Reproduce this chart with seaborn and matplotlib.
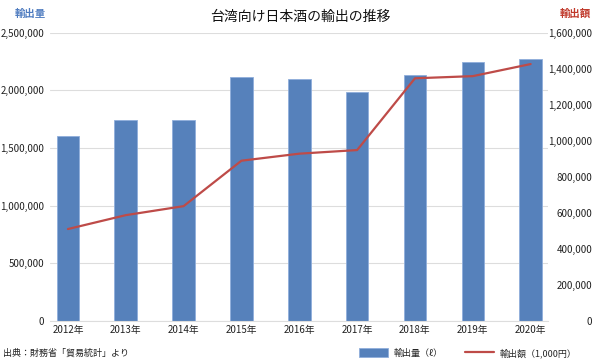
import matplotlib
matplotlib.use("Agg")
import matplotlib.pyplot as plt
import numpy as np
import pandas as pd
import seaborn as sns
from matplotlib.patches import Patch
from matplotlib.lines import Line2D
from matplotlib.ticker import FuncFormatter

# --- data ---
years = ['2012年', '2013年', '2014年', '2015年', '2016年',
         '2017年', '2018年', '2019年', '2020年']
volume = [1599000, 1744000, 1738000, 2111000, 2094000,
          1981000, 2132000, 2241000, 2267000]          # 輸出量（ℓ）
value = [510000, 587000, 637000, 889000, 928000,
         948000, 1346000, 1358000, 1425000]            # 輸出額（1,000円）

left_ticks = [0, 500000, 1000000, 1500000, 2000000, 2500000]
right_ticks = [0, 200000, 400000, 600000, 800000, 1000000, 1200000, 1400000, 1600000]

bar_color = '#5681BB'
line_color = '#BE4B48'
grid_color = '#DDDDDD'

sns.set_theme(style='white')
plt.rcParams['font.family'] = ['Noto Sans CJK JP', 'DejaVu Sans']

df = pd.DataFrame({'year': years, 'volume': volume, 'value': value})
df['pos'] = np.arange(len(df))

fig = plt.figure(figsize=(6, 3.63), dpi=100)
ax = fig.add_axes([50/600, 42/363, 498/600, 288.5/363])

sns.barplot(data=df, x='year', y='volume', ax=ax, color=bar_color,
            width=0.39, saturation=1, edgecolor='#8FAEDB', linewidth=0.6,
            zorder=2)
ax.set_xlim(-0.31, 8.3)
ax.set_ylim(0, 2500000)
ax.set_yticks(left_ticks)
ax.yaxis.set_major_formatter(FuncFormatter(lambda v, p: f'{int(v):,}'))
ax.grid(axis='y', color=grid_color, linewidth=0.8, zorder=0)
ax.set_axisbelow(True)
ax.set_xlabel('')
ax.set_ylabel('')
ax.tick_params(axis='both', length=0, labelsize=7, colors='#222222')
ax.tick_params(axis='y', pad=4)
ax.tick_params(axis='x', pad=3)
for s in ['top', 'left', 'right']:
    ax.spines[s].set_visible(False)
ax.spines['bottom'].set_color(grid_color)
ax.spines['bottom'].set_linewidth(0.8)

ax2 = ax.twinx()
sns.lineplot(data=df, x='pos', y='value', ax=ax2, color=line_color,
             linewidth=1.6, zorder=3)
ax2.set_ylim(0, 1600000)
ax2.set_yticks(right_ticks)
ax2.yaxis.set_major_formatter(FuncFormatter(lambda v, p: f'{int(v):,}'))
ax2.set_xlabel('')
ax2.set_ylabel('')
ax2.tick_params(axis='y', length=0, labelsize=7, colors='#222222', pad=32)
for lbl in ax2.get_yticklabels():
    lbl.set_horizontalalignment('right')
ax2.grid(False)
for s in ax2.spines.values():
    s.set_visible(False)
ax2.set_xlim(-0.31, 8.3)

# titles
fig.text(0.5, 1 - 17/363, '台湾向け日本酒の輸出の推移', ha='center', va='center',
         fontsize=10, color='#111111')
fig.text(30/600, 1 - 14/363, '輸出量', ha='center', va='center',
         fontsize=7.5, color='#4F7CC0', fontweight='bold')
fig.text(575/600, 1 - 14/363, '輸出額', ha='center', va='center',
         fontsize=7.5, color='#C0392B', fontweight='bold')
fig.text(3/600, 1 - 353/363, '出典：財務省「貿易統計」より', ha='left', va='center',
         fontsize=6.5, color='#222222')

handles = [Patch(facecolor=bar_color, edgecolor='#8FAEDB', linewidth=0.6),
           Line2D([0], [0], color=line_color, linewidth=1.6)]
fig.legend(handles, ['輸出量（ℓ）', '輸出額（1,000円）'], ncol=2, frameon=False,
           loc='center', bbox_to_anchor=(468/600, 1 - 353/363), fontsize=6.5,
           handlelength=3.2, handleheight=1.2, columnspacing=2.5, handletextpad=0.6)

fig.savefig('out.png', dpi=100, facecolor='white')
